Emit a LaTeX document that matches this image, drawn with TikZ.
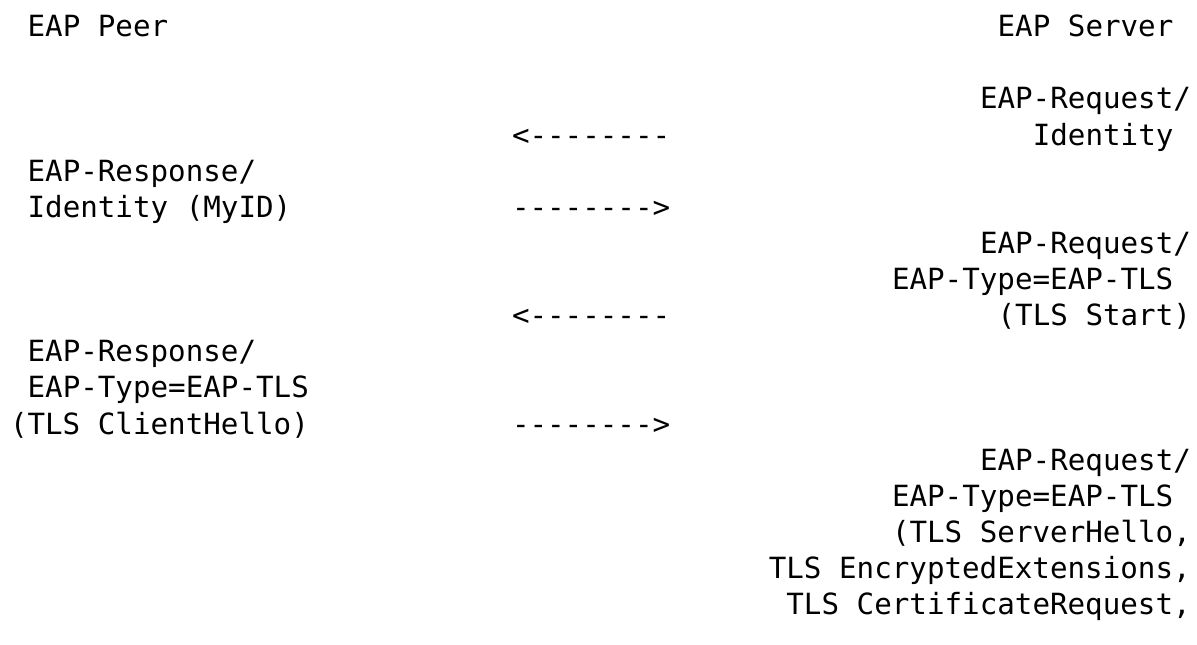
\documentclass[tikz,border=0pt]{standalone}
\usepackage{fontspec}
\newfontfamily\asciimono{DejaVu Sans Mono}
\begin{document}
\begin{tikzpicture}[x=1pt,y=-1pt,
  txt/.style={anchor=base west,inner sep=0pt,outer sep=0pt,font=\asciimono\fontsize{29.2}{36}\selectfont,text=black}]
\useasboundingbox[fill=white] (0,0) rectangle (1197,645);
\def\bl#1{\fpeval{36.7+36.125*#1}}
% left column
\node[txt] (peer)  at (27.6,{\bl{0}}) {EAP Peer};
\node[txt] (resp1a) at (27.6,{\bl{4}}) {EAP-Response/};
\node[txt] (resp1b) at (27.6,{\bl{5}}) {Identity (MyID)};
\node[txt] (resp2a) at (27.6,{\bl{9}}) {EAP-Response/};
\node[txt] (resp2b) at (27.6,{\bl{10}}) {EAP-Type=EAP-TLS};
\node[txt] (resp2c) at (10,{\bl{11}}) {(TLS ClientHello)};
% arrows
\node[txt] (arr1) at (512,{\bl{3}}) {<--------};
\node[txt] (arr2) at (512,{\bl{5}}) {-------->};
\node[txt] (arr3) at (512,{\bl{8}}) {<--------};
\node[txt] (arr4) at (512,{\bl{11}}) {-------->};
% right column
\node[txt] (server) at (997.6,{\bl{0}}) {EAP Server};
\node[txt] (req1a) at (980,{\bl{2}}) {EAP-Request/};
\node[txt] (req1b) at (1032.8,{\bl{3}}) {Identity};
\node[txt] (req2a) at (980,{\bl{6}}) {EAP-Request/};
\node[txt] (req2b) at (892,{\bl{7}}) {EAP-Type=EAP-TLS};
\node[txt] (req2c) at (997.6,{\bl{8}}) {(TLS Start)};
\node[txt] (req3a) at (980,{\bl{12}}) {EAP-Request/};
\node[txt] (req3b) at (892,{\bl{13}}) {EAP-Type=EAP-TLS};
\node[txt] (req3c) at (892,{\bl{14}}) {(TLS ServerHello,};
\node[txt] (req3d) at (768.8,{\bl{15}}) {TLS EncryptedExtensions,};
\node[txt] (req3e) at (786.4,{\bl{16}}) {TLS CertificateRequest,};
\end{tikzpicture}
\end{document}
